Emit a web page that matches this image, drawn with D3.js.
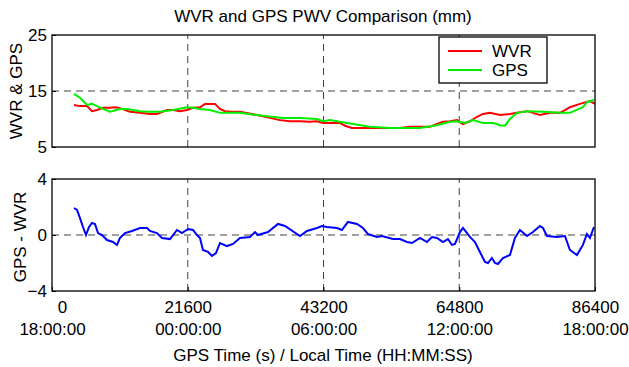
<!DOCTYPE html>
<meta charset="utf-8">
<style>
	body{ margin:0; background:#fff; }
	svg text{ font-family:"Liberation Sans", Arial, sans-serif; font-size:17px; fill:#000; }
	.frame{ fill:none; stroke:#000; stroke-width:1.3; }
	.grid{ stroke:#444; stroke-width:1; stroke-dasharray:7,5; }
	.axis path{ display:none; }
	.axis line{ stroke:#000; }
</style>
<body>
<svg width="629" height="367" id="chart"></svg>
<script src="https://d3js.org/d3.v7.min.js"></script>
<script>
	// WVR (red) - time in seconds, PWV in mm
	var wvrTime = [3500,4455,5570,6364,7160,8114,9228,10182,11137,12410,14000,15600,16700,18300,19250,20365,21480,22430,23550,24340,25140,25930,26730,27520,28640,29910,32620,34680,36270,37870,39460,41050,42160,43120,44230,45820,46620,47730,49480,51710,53780,55370,56960,58550,60140,61250,62210,63320,64440,65390,66500,67620,68570,69690,71280,72870,73980,75570,76530,77640,79230,80820,81620,82410,84000,85600,86400];
	var wvrVals = [12.5,12.3,12.3,11.4,11.6,12.0,12.0,12.1,11.8,11.3,11.1,10.9,10.9,11.6,11.6,11.4,11.6,12.0,12.1,12.7,12.7,12.7,11.8,11.4,11.3,11.3,10.7,10.2,9.8,9.6,9.6,9.5,9.6,9.3,9.3,9.3,8.8,8.4,8.4,8.4,8.4,8.4,8.6,8.6,8.6,9.1,9.5,9.6,9.8,9.1,9.6,10.4,10.9,11.1,10.7,10.9,11.1,11.4,11.1,10.7,11.1,11.1,11.6,12.1,12.7,13.2,12.7];

	// GPS (green)
	var gpsTime = [3500,4455,5570,6364,7160,8114,9228,10820,11930,14000,15110,17180,19250,21480,22430,23550,25140,26730,29910,32620,36750,39460,42160,43120,44230,46930,50590,53780,58550,61250,63320,64440,65710,66980,68570,70160,71280,72070,72870,73980,75730,78120,80820,82410,84480,85120,86230];
	var gpsVals = [14.5,13.8,12.5,12.7,12.3,11.8,11.3,11.8,11.8,11.4,11.3,11.3,11.6,12.1,12.0,11.8,11.6,11.1,11.1,10.7,10.2,10.2,10.0,9.6,9.8,9.3,8.6,8.4,8.4,8.9,9.5,9.6,9.3,9.8,9.3,9.3,8.9,8.8,10.0,11.1,11.4,11.3,11.1,11.1,12.1,13.0,13.4];

	// GPS - WVR (blue)
	var diffTime = [3500,3980,4455,4930,5410,5890,6360,6840,7320,7955,8750,9705,10340,10820,11610,12730,14000,15110,15590,16700,17500,18770,19890,20680,21640,22430,23070,23550,24020,24820,25460,26090,26730,27840,28800,29910,31500,32300,32770,34370,35960,37070,39460,40570,42160,42960,43750,45340,46140,47090,48530,49480,50280,51710,52500,54250,55370,56480,57280,58550,59660,60460,61250,62210,63000,63640,64120,64910,65390,66500,67300,68090,68890,69370,70000,70480,70960,71760,72870,73660,74460,75570,76530,77640,78120,78760,80350,81620,82410,83530,84480,85120,85600,86230];
	var diffVals = [1.93,1.79,1.21,0.57,0,0.57,0.86,0.79,0.14,0,-0.36,-0.5,-0.71,-0.21,0.14,0.29,0.5,0.5,0.29,0.14,-0.21,-0.29,0.36,0.14,0.43,0.36,0,-0.21,-1.07,-1.21,-1.5,-1.29,-0.57,-0.79,-0.64,-0.21,-0.14,0.21,0,0.21,0.79,0.64,-0.07,0.29,0.5,0.64,0.57,0.5,0.36,0.93,0.79,0.5,0.07,-0.14,-0.07,-0.29,-0.29,-0.5,-0.57,-0.21,-0.5,-0.14,-0.21,-0.5,-0.29,-0.71,-0.64,0.21,0.5,-0.14,-0.5,-1.21,-1.93,-2.0,-1.64,-2.0,-2.07,-1.64,-1.43,-0.21,0.36,-0.07,0.21,0.64,0.5,-0.07,-0.14,-0.07,-1.07,-1.43,-0.71,0.07,-0.21,0.57];

	var xTicks = [0, 21600, 43200, 64800, 86400];
	var localLabels = ["18:00:00", "00:00:00", "06:00:00", "12:00:00", "18:00:00"];
	var topTicks = [5, 15, 25];
	var botTicks = [-4, 0, 4];

	var svg = d3.select("#chart");
	var x = d3.scaleLinear().domain([0, 86400]).range([52, 595]);
	var yTop = d3.scaleLinear().domain([5, 25]).range([147, 35]);
	var yBot = d3.scaleLinear().domain([-4, 4]).range([291, 179]);

	function panel(y, yticks){
		var g = svg.append("g");
		// dashed grid on interior ticks
		g.selectAll(".vg").data(xTicks.slice(1, -1)).enter().append("line")
			.attr("class", "grid")
			.attr("x1", x).attr("x2", x)
			.attr("y1", y.range()[0]).attr("y2", y.range()[1]);
		g.selectAll(".hg").data(yticks.slice(1, -1)).enter().append("line")
			.attr("class", "grid")
			.attr("x1", x.range()[0]).attr("x2", x.range()[1])
			.attr("y1", y).attr("y2", y);
		g.append("g").attr("class", "axis")
			.attr("transform", "translate(" + x.range()[0] + ",0)")
			.call(d3.axisLeft(y).tickValues(yticks).tickSize(-4).tickPadding(5));
		return g;
	}

	var gTop = panel(yTop, topTicks);
	var gBot = panel(yBot, botTicks);

	var xAxis = gBot.append("g").attr("class", "axis")
		.attr("transform", "translate(0," + yBot.range()[0] + ")")
		.call(d3.axisBottom(x).tickValues(xTicks).tickFormat(d3.format("d")).tickSize(-4).tickPadding(6));
	xAxis.selectAll(".tick text").attr("dy", "0.95em")
		.attr("dx", function(d){ return d === 0 ? 10 : 0; });
	xAxis.selectAll(".tick").append("text")
		.attr("y", 44).attr("text-anchor", "middle")
		.text(function(d, i){ return localLabels[i]; });

	var line = d3.line().x(function(d){ return x(d[0]); });

	gTop.append("path").datum(d3.zip(wvrTime, wvrVals))
		.attr("fill", "none").attr("stroke", "#ff0000").attr("stroke-width", 2)
		.attr("d", line.y(function(d){ return yTop(d[1]); }));
	gTop.append("path").datum(d3.zip(gpsTime, gpsVals))
		.attr("fill", "none").attr("stroke", "#00ee00").attr("stroke-width", 2)
		.attr("d", line.y(function(d){ return yTop(d[1]); }));
	gBot.append("path").datum(d3.zip(diffTime, diffVals))
		.attr("fill", "none").attr("stroke", "#0000ff").attr("stroke-width", 2)
		.attr("d", line.y(function(d){ return yBot(d[1]); }));

	[yTop, yBot].forEach(function(y){
		svg.append("rect").attr("class", "frame")
			.attr("x", x.range()[0]).attr("y", y.range()[1])
			.attr("width", x.range()[1] - x.range()[0])
			.attr("height", y.range()[0] - y.range()[1]);
	});

	// legend
	var leg = svg.append("g").attr("transform", "translate(439,37)");
	leg.append("rect").attr("width", 108).attr("height", 46)
		.attr("fill", "#fff").attr("stroke", "#000").attr("stroke-width", 1.3);
	[["WVR", "#ff0000"], ["GPS", "#00ee00"]].forEach(function(s, i){
		leg.append("line").attr("x1", 9).attr("x2", 43)
			.attr("y1", 14 + i * 19).attr("y2", 14 + i * 19)
			.attr("stroke", s[1]).attr("stroke-width", 2);
		leg.append("text").attr("x", 53).attr("y", 20 + i * 19).text(s[0]);
	});

	// titles
	svg.append("text").attr("x", 323).attr("y", 22).attr("text-anchor", "middle")
		.text("WVR and GPS PWV Comparison (mm)");
	svg.append("text").attr("x", 323).attr("y", 361).attr("text-anchor", "middle")
		.text("GPS Time (s) / Local Time (HH:MM:SS)");
	svg.append("text").attr("transform", "translate(22,91) rotate(-90)")
		.attr("text-anchor", "middle").text("WVR & GPS");
	svg.append("text").attr("transform", "translate(26,237) rotate(-90)")
		.attr("text-anchor", "middle").text("GPS - WVR");
</script>
</body>
